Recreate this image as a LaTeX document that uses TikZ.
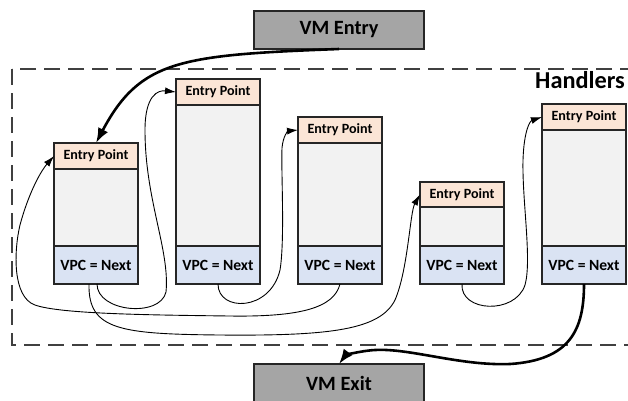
\documentclass[tikz,border=0pt]{standalone}
\usepackage{fontspec}
\setmainfont{Carlito}
\usetikzlibrary{arrows.meta}
\definecolor{hdrfill}{HTML}{FBE5D6}
\definecolor{bodyfill}{HTML}{F2F2F2}
\definecolor{vpcfill}{HTML}{DAE3F3}
\definecolor{vmfill}{HTML}{A5A5A5}
\definecolor{edge}{HTML}{262626}
\definecolor{frame}{HTML}{404040}
\begin{document}
\begin{tikzpicture}[x=1pt,y=-1pt,
  part/.style={draw=edge, line width=1.2pt, minimum width=84pt, inner sep=0pt, outer sep=0pt, anchor=north west},
  hdr/.style={part, fill=hdrfill, font=\fontsize{14.1}{16}\selectfont\bfseries},
  bodypart/.style={part, fill=bodyfill},
  vpc/.style={part, fill=vpcfill, minimum height=38pt, font=\fontsize{15.6}{18}\selectfont\bfseries},
  vmbox/.style={draw=edge, line width=1.3pt, fill=vmfill, minimum width=170pt, minimum height=38pt, inner sep=0pt, outer sep=0pt, font=\fontsize{20.3}{23}\selectfont\bfseries},
  thinarrow/.style={draw=black, line width=0.9pt, -{Latex[length=11pt,width=7pt]}},
  thickarrow/.style={draw=black, line width=2.6pt, -{Latex[length=15pt,width=11pt]}},
  frameline/.style={draw=frame, line width=1.5pt, dash pattern=on 16pt off 8pt}
]
\useasboundingbox (0,0) rectangle (628,400);
% frame
\draw[frameline] (12,69) rectangle (660,345);
\node[anchor=base west, inner sep=0pt, font=\fontsize{24.3}{28}\selectfont\bfseries] (handlers) at (535,88) {Handlers};
% VM boxes
\node[vmbox] (vmentry) at (339,30) {VM Entry};
\node[vmbox] (vmexit) at (339,383) {VM Exit};
% handler 1
\node[hdr, minimum height=26pt] (h1e) at (54,143) {Entry Point};
\node[bodypart, minimum height=77pt] (h1b) at (54,169) {};
\node[vpc] (h1v) at (54,246) {VPC = Next};
% handler 2
\node[hdr, minimum height=26pt] (h2e) at (176,79) {Entry Point};
\node[bodypart, minimum height=141pt] (h2b) at (176,105) {};
\node[vpc] (h2v) at (176,246) {VPC = Next};
% handler 3
\node[hdr, minimum height=26pt] (h3e) at (298,117) {Entry Point};
\node[bodypart, minimum height=103pt] (h3b) at (298,143) {};
\node[vpc] (h3v) at (298,246) {VPC = Next};
% handler 4
\node[hdr, minimum height=25pt] (h4e) at (420,182) {Entry Point};
\node[bodypart, minimum height=39pt] (h4b) at (420,207) {};
\node[vpc] (h4v) at (420,246) {VPC = Next};
% handler 5
\node[hdr, minimum height=26pt] (h5e) at (542,104) {Entry Point};
\node[bodypart, minimum height=116pt] (h5b) at (542,130) {};
\node[vpc] (h5v) at (542,246) {VPC = Next};
% connectors
\draw[thickarrow] (vmentry.south) .. controls (180,55) and (140,60) .. (h1e.north);
\draw[thinarrow] ([xshift=1pt]h1v.south) .. controls (97,312) and (160,318) .. (166,292)
  .. controls (170,250) and (145,200) .. (145,130) .. controls (145,95) and (158,90) .. (h2e.west);
\draw[thinarrow] (h2v.south) .. controls (218,312) and (270,312) .. (280,270)
  .. controls (285,240) and (281,170) .. (282,148) .. controls (283,136) and (288,131) .. (h3e.west);
\draw[thinarrow] ([xshift=-7pt]h1v.south) .. controls (88,330) and (120,334) .. (220,335)
  .. controls (330,336) and (380,330) .. (395,300) .. controls (408,270) and (410,212) .. (h4e.west);
\draw[thinarrow] (h3v.south) .. controls (334,308) and (300,317) .. (230,316)
  .. controls (150,315) and (60,314) .. (35,305) .. controls (12,297) and (14,250) .. (20,225)
  .. controls (28,195) and (40,172) .. (h1e.west);
\draw[thinarrow] (h4v.south) .. controls (460,312) and (515,315) .. (525,285)
  .. controls (532,260) and (522,200) .. (523,160) .. controls (524,130) and (530,121) .. (h5e.west);
\draw[thickarrow] (h5v.south) .. controls (584,330) and (570,360) .. (510,364)
  .. controls (460,366) and (410,348) .. (375,350) .. controls (358,351) and (345,356) .. (vmexit.north);
\end{tikzpicture}
\end{document}
